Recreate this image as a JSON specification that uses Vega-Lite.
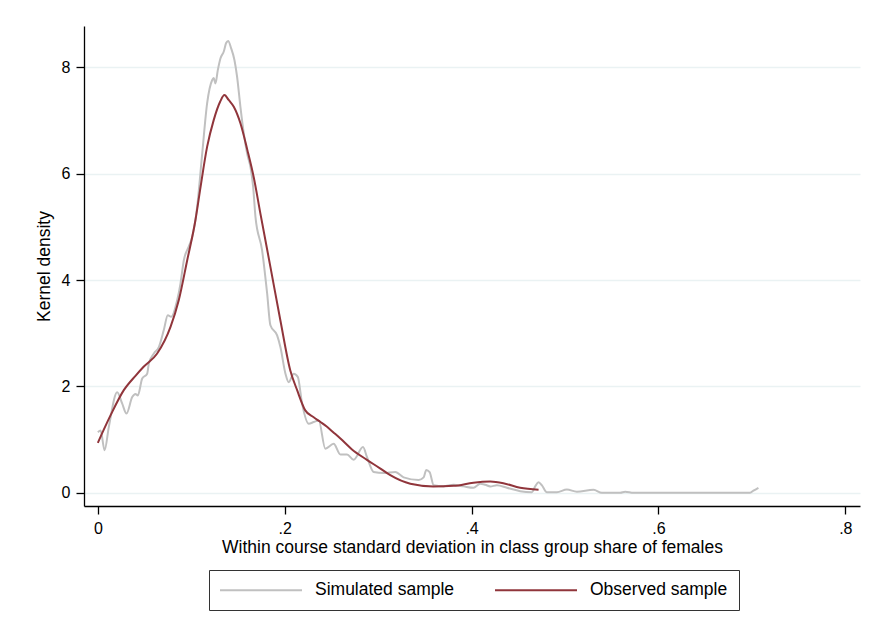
{
  "$schema": "https://vega.github.io/schema/vega-lite/v6.json",
  "autosize": "none",
  "width": 776,
  "height": 480,
  "padding": {"left": 84, "top": 26, "right": 10, "bottom": 131},
  "background": "white",
  "config": {
    "view": {"stroke": null},
    "font": "Liberation Sans",
    "axis": {
      "labelFont": "Liberation Sans",
      "titleFont": "Liberation Sans",
      "labelColor": "#000000",
      "titleColor": "#000000",
      "titleFontWeight": "normal",
      "domainColor": "#000000",
      "domainWidth": 1.3,
      "tickColor": "#000000",
      "tickWidth": 1.3,
      "tickSize": 8,
      "labelFontSize": 16,
      "titleFontSize": 17.5
    },
    "legend": {
      "labelFont": "Liberation Sans",
      "labelColor": "#000000"
    }
  },
  "data": {
    "values": [
      {"series": "Simulated sample", "x": 0, "y": 1.14},
      {"series": "Simulated sample", "x": 0.003, "y": 1.17},
      {"series": "Simulated sample", "x": 0.0072, "y": 0.8},
      {"series": "Simulated sample", "x": 0.0118, "y": 1.24},
      {"series": "Simulated sample", "x": 0.0207, "y": 1.89},
      {"series": "Simulated sample", "x": 0.026, "y": 1.68},
      {"series": "Simulated sample", "x": 0.0307, "y": 1.49},
      {"series": "Simulated sample", "x": 0.0368, "y": 1.8},
      {"series": "Simulated sample", "x": 0.0403, "y": 1.86},
      {"series": "Simulated sample", "x": 0.0428, "y": 1.83},
      {"series": "Simulated sample", "x": 0.0475, "y": 2.15},
      {"series": "Simulated sample", "x": 0.0528, "y": 2.24},
      {"series": "Simulated sample", "x": 0.0546, "y": 2.43},
      {"series": "Simulated sample", "x": 0.06, "y": 2.62},
      {"series": "Simulated sample", "x": 0.0653, "y": 2.74},
      {"series": "Simulated sample", "x": 0.0706, "y": 3.06},
      {"series": "Simulated sample", "x": 0.0749, "y": 3.34},
      {"series": "Simulated sample", "x": 0.0785, "y": 3.31},
      {"series": "Simulated sample", "x": 0.0849, "y": 3.62},
      {"series": "Simulated sample", "x": 0.0885, "y": 3.94},
      {"series": "Simulated sample", "x": 0.092, "y": 4.37},
      {"series": "Simulated sample", "x": 0.0973, "y": 4.63},
      {"series": "Simulated sample", "x": 0.101, "y": 4.81},
      {"series": "Simulated sample", "x": 0.1063, "y": 5.38},
      {"series": "Simulated sample", "x": 0.1117, "y": 6.38},
      {"series": "Simulated sample", "x": 0.117, "y": 7.33},
      {"series": "Simulated sample", "x": 0.1223, "y": 7.76},
      {"series": "Simulated sample", "x": 0.124, "y": 7.8},
      {"series": "Simulated sample", "x": 0.1259, "y": 7.7},
      {"series": "Simulated sample", "x": 0.1284, "y": 7.95},
      {"series": "Simulated sample", "x": 0.1312, "y": 8.17},
      {"series": "Simulated sample", "x": 0.1348, "y": 8.3},
      {"series": "Simulated sample", "x": 0.1373, "y": 8.46},
      {"series": "Simulated sample", "x": 0.1395, "y": 8.5},
      {"series": "Simulated sample", "x": 0.1427, "y": 8.36},
      {"series": "Simulated sample", "x": 0.1462, "y": 8.14},
      {"series": "Simulated sample", "x": 0.149, "y": 7.83},
      {"series": "Simulated sample", "x": 0.1526, "y": 7.26},
      {"series": "Simulated sample", "x": 0.1562, "y": 6.76},
      {"series": "Simulated sample", "x": 0.1598, "y": 6.38},
      {"series": "Simulated sample", "x": 0.1633, "y": 6.13},
      {"series": "Simulated sample", "x": 0.1662, "y": 5.76},
      {"series": "Simulated sample", "x": 0.1687, "y": 5.19},
      {"series": "Simulated sample", "x": 0.1758, "y": 4.56},
      {"series": "Simulated sample", "x": 0.1812, "y": 3.75},
      {"series": "Simulated sample", "x": 0.1847, "y": 3.15},
      {"series": "Simulated sample", "x": 0.1919, "y": 2.96},
      {"series": "Simulated sample", "x": 0.1954, "y": 2.74},
      {"series": "Simulated sample", "x": 0.2008, "y": 2.24},
      {"series": "Simulated sample", "x": 0.2043, "y": 2.08},
      {"series": "Simulated sample", "x": 0.2097, "y": 2.24},
      {"series": "Simulated sample", "x": 0.214, "y": 2.18},
      {"series": "Simulated sample", "x": 0.2186, "y": 1.68},
      {"series": "Simulated sample", "x": 0.2257, "y": 1.3},
      {"series": "Simulated sample", "x": 0.231, "y": 1.33},
      {"series": "Simulated sample", "x": 0.2364, "y": 1.36},
      {"series": "Simulated sample", "x": 0.2435, "y": 0.83},
      {"series": "Simulated sample", "x": 0.2524, "y": 0.92},
      {"series": "Simulated sample", "x": 0.2596, "y": 0.72},
      {"series": "Simulated sample", "x": 0.2667, "y": 0.72},
      {"series": "Simulated sample", "x": 0.2738, "y": 0.62},
      {"series": "Simulated sample", "x": 0.2838, "y": 0.86},
      {"series": "Simulated sample", "x": 0.2881, "y": 0.67},
      {"series": "Simulated sample", "x": 0.2952, "y": 0.39},
      {"series": "Simulated sample", "x": 0.3059, "y": 0.37},
      {"series": "Simulated sample", "x": 0.3184, "y": 0.39},
      {"series": "Simulated sample", "x": 0.3273, "y": 0.29},
      {"series": "Simulated sample", "x": 0.3433, "y": 0.24},
      {"series": "Simulated sample", "x": 0.3487, "y": 0.29},
      {"series": "Simulated sample", "x": 0.3515, "y": 0.43},
      {"series": "Simulated sample", "x": 0.3551, "y": 0.39},
      {"series": "Simulated sample", "x": 0.3594, "y": 0.14},
      {"series": "Simulated sample", "x": 0.37, "y": 0.12},
      {"series": "Simulated sample", "x": 0.3807, "y": 0.15},
      {"series": "Simulated sample", "x": 0.3914, "y": 0.12},
      {"series": "Simulated sample", "x": 0.402, "y": 0.094},
      {"series": "Simulated sample", "x": 0.4093, "y": 0.17},
      {"series": "Simulated sample", "x": 0.4147, "y": 0.15},
      {"series": "Simulated sample", "x": 0.42, "y": 0.12},
      {"series": "Simulated sample", "x": 0.4271, "y": 0.14},
      {"series": "Simulated sample", "x": 0.4378, "y": 0.094},
      {"series": "Simulated sample", "x": 0.452, "y": 0.03},
      {"series": "Simulated sample", "x": 0.4646, "y": 0.012},
      {"series": "Simulated sample", "x": 0.4681, "y": 0.12},
      {"series": "Simulated sample", "x": 0.4717, "y": 0.2},
      {"series": "Simulated sample", "x": 0.4753, "y": 0.14},
      {"series": "Simulated sample", "x": 0.4806, "y": 0.01},
      {"series": "Simulated sample", "x": 0.4913, "y": 0.01},
      {"series": "Simulated sample", "x": 0.502, "y": 0.06},
      {"series": "Simulated sample", "x": 0.5127, "y": 0.02},
      {"series": "Simulated sample", "x": 0.5305, "y": 0.056},
      {"series": "Simulated sample", "x": 0.5394, "y": 0},
      {"series": "Simulated sample", "x": 0.559, "y": 0},
      {"series": "Simulated sample", "x": 0.5644, "y": 0.02},
      {"series": "Simulated sample", "x": 0.5733, "y": 0},
      {"series": "Simulated sample", "x": 0.609, "y": 0},
      {"series": "Simulated sample", "x": 0.65, "y": 0},
      {"series": "Simulated sample", "x": 0.698, "y": 0},
      {"series": "Simulated sample", "x": 0.7016, "y": 0.04},
      {"series": "Simulated sample", "x": 0.707, "y": 0.094},

      {"series": "Observed sample", "x": 0, "y": 0.94},
      {"series": "Observed sample", "x": 0.0137, "y": 1.46},
      {"series": "Observed sample", "x": 0.0278, "y": 1.93},
      {"series": "Observed sample", "x": 0.0403, "y": 2.2},
      {"series": "Observed sample", "x": 0.049, "y": 2.37},
      {"series": "Observed sample", "x": 0.0635, "y": 2.62},
      {"series": "Observed sample", "x": 0.0778, "y": 3.12},
      {"series": "Observed sample", "x": 0.0866, "y": 3.62},
      {"series": "Observed sample", "x": 0.0956, "y": 4.37},
      {"series": "Observed sample", "x": 0.1045, "y": 5.13},
      {"series": "Observed sample", "x": 0.11, "y": 5.76},
      {"series": "Observed sample", "x": 0.117, "y": 6.51},
      {"series": "Observed sample", "x": 0.124, "y": 7.01},
      {"series": "Observed sample", "x": 0.131, "y": 7.36},
      {"series": "Observed sample", "x": 0.1355, "y": 7.48},
      {"series": "Observed sample", "x": 0.14, "y": 7.39},
      {"series": "Observed sample", "x": 0.1455, "y": 7.26},
      {"series": "Observed sample", "x": 0.1526, "y": 6.95},
      {"series": "Observed sample", "x": 0.16, "y": 6.45},
      {"series": "Observed sample", "x": 0.1668, "y": 5.94},
      {"series": "Observed sample", "x": 0.174, "y": 5.25},
      {"series": "Observed sample", "x": 0.1847, "y": 4.25},
      {"series": "Observed sample", "x": 0.1954, "y": 3.24},
      {"series": "Observed sample", "x": 0.206, "y": 2.3},
      {"series": "Observed sample", "x": 0.2133, "y": 1.93},
      {"series": "Observed sample", "x": 0.222, "y": 1.55},
      {"series": "Observed sample", "x": 0.231, "y": 1.42},
      {"series": "Observed sample", "x": 0.2383, "y": 1.33},
      {"series": "Observed sample", "x": 0.2453, "y": 1.24},
      {"series": "Observed sample", "x": 0.2525, "y": 1.13},
      {"series": "Observed sample", "x": 0.2596, "y": 1.02},
      {"series": "Observed sample", "x": 0.2717, "y": 0.82},
      {"series": "Observed sample", "x": 0.288, "y": 0.62},
      {"series": "Observed sample", "x": 0.302, "y": 0.46},
      {"series": "Observed sample", "x": 0.313, "y": 0.33},
      {"series": "Observed sample", "x": 0.3344, "y": 0.17},
      {"series": "Observed sample", "x": 0.359, "y": 0.12},
      {"series": "Observed sample", "x": 0.381, "y": 0.13},
      {"series": "Observed sample", "x": 0.402, "y": 0.19},
      {"series": "Observed sample", "x": 0.42, "y": 0.21},
      {"series": "Observed sample", "x": 0.434, "y": 0.18},
      {"series": "Observed sample", "x": 0.452, "y": 0.094},
      {"series": "Observed sample", "x": 0.4717, "y": 0.056}
    ]
  },
  "encoding": {
    "x": {
      "field": "x",
      "type": "quantitative",
      "scale": {"domain": [-0.0148, 0.8157], "nice": false, "zero": false},
      "axis": {
        "title": "Within course standard deviation in class group share of females",
        "values": [0, 0.2, 0.4, 0.6, 0.8],
        "labelExpr": "datum.value == 0 ? '0' : '.' + round(datum.value * 10)",
        "grid": false,
        "labelPadding": 6,
        "titlePadding": 2,
        "labelFlush": false
      }
    },
    "y": {
      "field": "y",
      "type": "quantitative",
      "scale": {"domain": [-0.249, 8.78], "nice": false, "zero": false},
      "axis": {
        "title": "Kernel density",
        "values": [0, 2, 4, 6, 8],
        "format": "d",
        "grid": true,
        "gridColor": "#eaf2f3",
        "gridWidth": 1.6,
        "labelAngle": 0,
        "labelPadding": 6,
        "titlePadding": 8,
        "labelFlush": false
      }
    },
    "color": {
      "field": "series",
      "type": "nominal",
      "scale": {
        "domain": ["Simulated sample", "Observed sample"],
        "range": ["#c0c0c0", "#90353b"]
      },
      "legend": {
        "title": null,
        "orient": "none",
        "legendX": 125,
        "legendY": 544,
        "direction": "horizontal",
        "symbolType": "M-1.75,0H14.65",
        "symbolSize": 100,
        "symbolStrokeWidth": 2,
        "labelFontSize": 17.5,
        "labelOffset": 77.5,
        "columnPadding": 36,
        "padding": 11,
        "strokeColor": "#333333",
        "fillColor": "white"
      }
    }
  },
  "layer": [
    {
      "transform": [{"filter": "datum.series == 'Simulated sample'"}],
      "mark": {"type": "line", "strokeWidth": 2, "interpolate": "monotone"}
    },
    {
      "transform": [{"filter": "datum.series == 'Observed sample'"}],
      "mark": {"type": "line", "strokeWidth": 2, "interpolate": "monotone"}
    }
  ]
}
